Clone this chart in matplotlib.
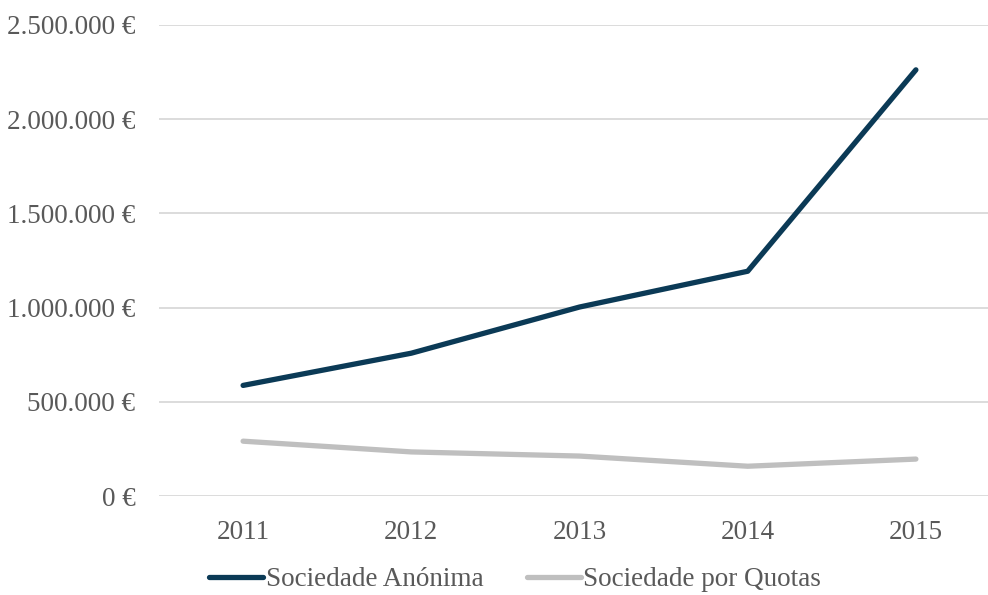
import matplotlib
matplotlib.use("Agg")
from matplotlib import pyplot as plt
from matplotlib.ticker import FuncFormatter

# data
anos = ["2011", "2012", "2013", "2014", "2015"]
anonima = [587000, 758000, 1003000, 1193000, 2262000]
quotas = [291000, 234000, 212000, 158000, 196000]

plt.rcParams["font.family"] = ["Liberation Serif", "DejaVu Serif"]
texto = "#595959"

fig = plt.figure(figsize=(9.88, 5.95), dpi=100)
ax = fig.add_axes([159/988, 99/595, 841/988, 471/595])

x = range(len(anos))
ax.plot(x, anonima, color="#0b3a56", lw=3.8, solid_capstyle="round",
        solid_joinstyle="round", label="Sociedade Anónima", zorder=3)
ax.plot(x, quotas, color="#bfbfbf", lw=3.8, solid_capstyle="round",
        solid_joinstyle="round", label="Sociedade por Quotas", zorder=3)

ax.set_xlim(-0.5, 4.5)
ax.set_ylim(0, 2500000)
ax.set_yticks(range(0, 2500001, 500000))
ax.yaxis.set_major_formatter(FuncFormatter(lambda v, p: "{:,.0f} €".format(v).replace(",", ".")))
ax.set_xticks(list(x))
ax.set_xticklabels(anos)
ax.grid(axis="y", color="#d9d9d9", lw=1.3)
ax.set_axisbelow(True)
for s in ax.spines.values():
    s.set_visible(False)
ax.tick_params(length=0, labelsize=19.5, labelcolor=texto)
ax.tick_params(axis="y", pad=17)
ax.tick_params(axis="x", pad=17)

leg = ax.legend(loc="center", bbox_to_anchor=(515/988, 15/595), bbox_transform=fig.transFigure,
                ncol=2, frameon=False, fontsize=19.5, handlelength=2.0, handletextpad=0.1,
                columnspacing=1.6, labelcolor=texto)

fig.savefig("out.png", dpi=100)
